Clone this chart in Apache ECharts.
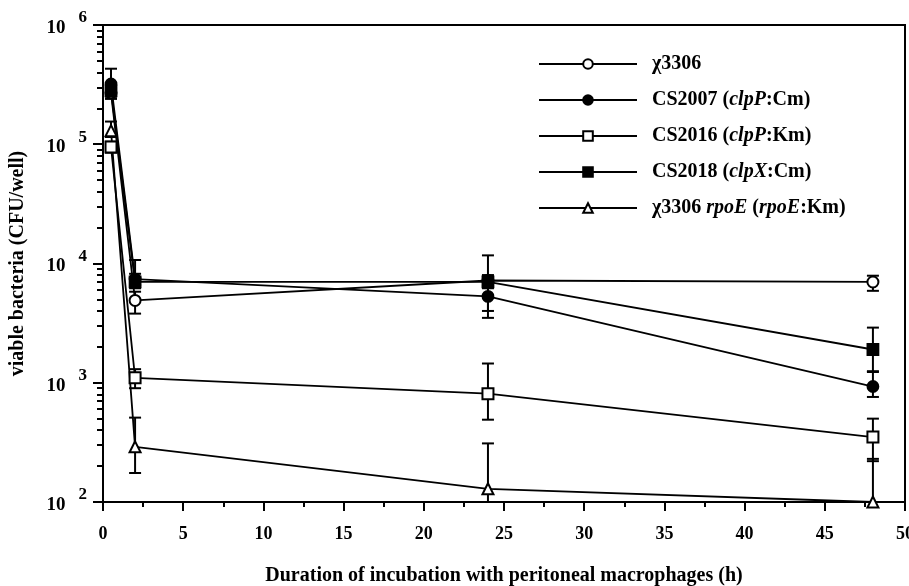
<!DOCTYPE html>
<html>
<head>
<meta charset="utf-8">
<script src="https://cdn.jsdelivr.net/npm/echarts@6/dist/echarts.min.js"></script>
<style>
  html, body { margin: 0; padding: 0; background: #fff; }
  #chart { width: 909px; height: 586px; }
</style>
</head>
<body>
<div id="chart"></div>
<script>
(function() {
  // 时间点 (h)
  var hours = [0.5, 2, 24, 48];

  // χ3306
  var chi3306 = [2.7e5, 4.9e3, 7.2e3, 7.0e3];
  var chi3306Lo = [2.4e5, 3.8e3, 6.5e3, 5.9e3];
  var chi3306Hi = [3.0e5, 5.8e3, 8.0e3, 7.9e3];
  // CS2007 (clpP:Cm)
  var cs2007 = [3.2e5, 7.4e3, 5.3e3, 9.3e2];
  var cs2007Lo = [2.8e5, 6.6e3, 3.5e3, 7.6e2];
  var cs2007Hi = [4.3e5, 8.2e3, 6.2e3, 1.23e3];
  // CS2016 (clpP:Km)
  var cs2016 = [9.5e4, 1.1e3, 8.1e2, 3.5e2];
  var cs2016Lo = [8.5e4, 9.0e2, 4.9e2, 2.2e2];
  var cs2016Hi = [1.05e5, 1.3e3, 1.45e3, 5.0e2];
  // CS2018 (clpX:Cm)
  var cs2018 = [2.8e5, 7.0e3, 7.0e3, 1.9e3];
  var cs2018Lo = [2.5e5, 6.2e3, 4.0e3, 1.25e3];
  var cs2018Hi = [3.2e5, 1.07e4, 1.17e4, 2.9e3];
  // χ3306 rpoE (rpoE:Km)
  var rpoE = [1.3e5, 2.9e2, 1.29e2, 1.0e2];
  var rpoELo = [1.15e5, 1.75e2, 1.0e2, 1.0e2];
  var rpoEHi = [1.55e5, 5.1e2, 3.1e2, 2.3e2];

  // 刻度
  var xTicks = [0, 5, 10, 15, 20, 25, 30, 35, 40, 45, 50];
  var yMinorTicks = [200, 300, 400, 500, 600, 700, 800, 900,
    2000, 3000, 4000, 5000, 6000, 7000, 8000, 9000,
    20000, 30000, 40000, 50000, 60000, 70000, 80000, 90000,
    200000, 300000, 400000, 500000, 600000, 700000, 800000, 900000];

  var FONT = "Liberation Serif";
  var myChart = echarts.init(document.getElementById("chart"));

  function pairs(ys) {
    return hours.map(function(h, i) { return [h, ys[i]]; });
  }

  function errBars(lo, hi) {
    return {
      type: "custom",
      silent: true,
      z: 1,
      renderItem: function(params, api) {
        var x = api.value(0);
        var a = api.coord([x, api.value(1)]);
        var b = api.coord([x, api.value(2)]);
        var w = 6;
        var st = { stroke: "#000", lineWidth: 2 };
        return {
          type: "group",
          children: [
            { type: "line", shape: { x1: a[0], y1: a[1], x2: b[0], y2: b[1] }, style: st },
            { type: "line", shape: { x1: a[0] - w, y1: a[1], x2: a[0] + w, y2: a[1] }, style: st },
            { type: "line", shape: { x1: b[0] - w, y1: b[1], x2: b[0] + w, y2: b[1] }, style: st }
          ]
        };
      },
      encode: { x: 0, y: [1, 2] },
      data: hours.map(function(h, i) { return [h, lo[i], hi[i]]; })
    };
  }

  function line(name, ys, symbol) {
    return {
      name: name,
      type: "line",
      data: pairs(ys),
      symbol: symbol,
      symbolSize: 11,
      showAllSymbol: true,
      z: 3,
      lineStyle: { color: "#000", width: 1.8 },
      itemStyle: { color: "#000", borderColor: "#000", borderWidth: 1.8 },
      emphasis: { disabled: true }
    };
  }

  var legendText = {
    "χ3306": "{n|χ3306}",
    "CS2007": "{n|CS2007 (}{i|clpP}{n|:Cm)}",
    "CS2016": "{n|CS2016 (}{i|clpP}{n|:Km)}",
    "CS2018": "{n|CS2018 (}{i|clpX}{n|:Cm)}",
    "χ3306 rpoE": "{n|χ3306 }{i|rpoE}{n| (}{i|rpoE}{n|:Km)}"
  };

  var option = {
    backgroundColor: "#fff",
    animation: false,
    grid: {
      left: 103, right: 4, top: 25, bottom: 84,
      outerBoundsMode: "none",
      containLabel: false,
      show: true, borderColor: "#000", borderWidth: 2, backgroundColor: "transparent"
    },
    legend: {
      orient: "vertical",
      left: 533,
      top: 49,
      itemWidth: 98,
      itemHeight: 12,
      itemGap: 16,
      selectedMode: false,
      data: ["χ3306", "CS2007", "CS2016", "CS2018", "χ3306 rpoE"],
      formatter: function(name) { return legendText[name]; },
      textStyle: {
        padding: [0, 0, 0, 10],
        rich: {
          n: { fontFamily: FONT, fontWeight: "bold", fontSize: 20, color: "#000" },
          i: { fontFamily: FONT, fontWeight: "bold", fontStyle: "italic", fontSize: 20, color: "#000" }
        }
      }
    },
    xAxis: {
      type: "value",
      min: 0,
      max: 50,
      interval: 5,
      name: "Duration of incubation with peritoneal macrophages (h)",
      nameLocation: "middle",
      nameGap: 64,
      nameTextStyle: { fontFamily: FONT, fontWeight: "bold", fontSize: 20, color: "#000" },
      axisLine: { lineStyle: { color: "#000", width: 2 } },
      axisTick: { inside: false, length: 9, lineStyle: { color: "#000", width: 2 } },
      minorTick: { show: true, splitNumber: 2, length: 5, lineStyle: { color: "#000", width: 2 } },
      axisLabel: {
        margin: 23,
        fontFamily: FONT, fontWeight: "bold", fontSize: 18, color: "#000",
        formatter: function(v) { return xTicks.indexOf(v) >= 0 ? String(v) : ""; }
      },
      splitLine: { show: false }
    },
    yAxis: [
      {
        type: "log",
        logBase: 10,
        min: 100,
        max: 1e6,
        name: "viable bacteria (CFU/well)",
        nameLocation: "middle",
        nameGap: 75,
        nameTextStyle: { fontFamily: FONT, fontWeight: "bold", fontSize: 20, color: "#000" },
        axisLine: { show: true, lineStyle: { color: "#000", width: 2 } },
        axisTick: { inside: false, length: 10, lineStyle: { color: "#000", width: 2 } },
        axisLabel: {
          margin: 16,
          formatter: function(v) {
            return "{b|10}{e|" + Math.round(Math.log10(v)) + "}";
          },
          rich: {
            b: { fontFamily: FONT, fontWeight: "bold", fontSize: 19, color: "#000", padding: [6, 0, 0, 0] },
            e: { fontFamily: FONT, fontWeight: "bold", fontSize: 17, color: "#000", padding: [0, 0, 14, 13] }
          }
        },
        splitLine: { show: false }
      },
      {
        type: "log",
        logBase: 10,
        min: 100,
        max: 1e6,
        position: "left",
        axisLine: { show: false },
        axisTick: { show: true, inside: false, length: 6, customValues: yMinorTicks, lineStyle: { color: "#000", width: 2 } },
        axisLabel: { show: false },
        splitLine: { show: false }
      }
    ],
    series: [
      errBars(chi3306Lo, chi3306Hi),
      errBars(cs2007Lo, cs2007Hi),
      errBars(cs2016Lo, cs2016Hi),
      errBars(cs2018Lo, cs2018Hi),
      errBars(rpoELo, rpoEHi),
      line("χ3306", chi3306, "emptyCircle"),
      line("CS2007", cs2007, "circle"),
      line("CS2016", cs2016, "emptyRect"),
      line("CS2018", cs2018, "rect"),
      line("χ3306 rpoE", rpoE, "emptyTriangle")
    ]
  };

  myChart.setOption(option);
  window.addEventListener("resize", function() {
    myChart.resize();
  });
})();
</script>
</body>
</html>
